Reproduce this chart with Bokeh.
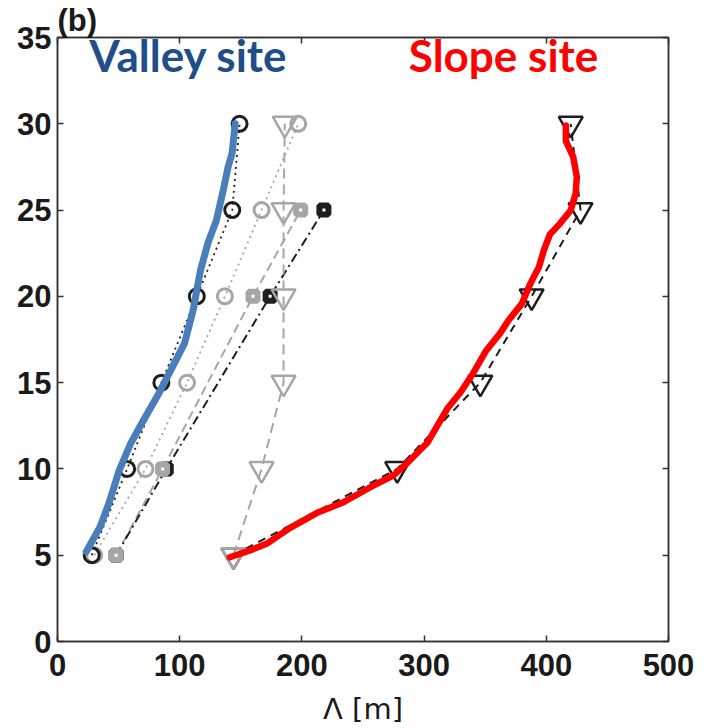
from bokeh.plotting import figure
from bokeh.models import Range1d, LinearAxis, FixedTicker, Label
from bokeh.embed import file_html
from bokeh.resources import INLINE

# ---------------- data ----------------
heights = [5, 10, 15, 20, 25, 30]
square_heights = [5, 10, 20, 25]

valley_black_circles = [28, 57, 85, 114, 143, 149]
valley_gray_circles = [30, 72, 106, 137, 167, 197]
valley_gray_squares = [48, 86, 160, 199]
valley_black_squares = [48, 89, 174, 218]
gray_triangles = [144, 167, 185, 185, 185, 186]
slope_black_triangles = [144, 278, 346, 388, 428, 420]

valley_line_h = [5.2, 6.64, 8.0, 9.0, 9.92, 11.49, 12.65, 14.39, 15.9, 17.29,
                 19.2, 21.5, 23.07, 24.4, 26.1, 27.5, 28.3, 30.0]
valley_line_m = [23.5, 34.8, 42, 46.5, 50.5, 60, 69, 83, 94, 104,
                 111, 117, 123, 130, 135.5, 139.6, 142.9, 145.4]

slope_line_h = [4.88, 5.29, 5.70, 6.57, 7.44, 8.07, 8.94, 9.63, 10.33, 11.55,
                13.5, 14.46, 15.53, 16.88, 17.84, 18.6, 19.58, 20.74, 21.7,
                22.67, 23.6, 24.2, 24.99, 25.96, 26.9, 28.08, 29.0, 29.9]
slope_line_m = [141, 158, 172, 190, 212, 234, 256, 275, 286, 303,
                319, 330, 340, 351, 362, 369, 380, 387, 394,
                398, 403, 411, 420, 424, 425, 422, 416, 416]

x_ticks = [0, 100, 200, 300, 400, 500]
y_ticks = [0, 5, 10, 15, 20, 25, 30, 35]

GRAY = "#A6A6A6"
BLACK = "#1E1E1E"

p = figure(width=706, height=728, output_backend="svg", toolbar_location=None,
           x_range=Range1d(0, 500), y_range=Range1d(0, 35),
           min_border_left=57, min_border_right=38,
           min_border_top=37, min_border_bottom=87)
p.grid.visible = False
p.outline_line_color = "#333333"
p.outline_line_width = 1.5
p.background_fill_color = "white"
p.border_fill_color = "white"

p.title.text = "(b)"
p.title.align = "left"
p.title.text_font = "Liberation Sans"
p.title.text_font_style = "bold"
p.title.text_font_size = "31px"
p.title.text_color = "#1A1A1A"
p.title.standoff = 0
p.title.offset = 0

def style_axis(ax):
    ax.major_tick_in = 6
    ax.major_tick_out = 0
    ax.minor_tick_line_color = None
    ax.axis_line_color = "#333333"
    ax.axis_line_width = 1.5
    ax.major_tick_line_color = "#333333"
    ax.major_tick_line_width = 1.5
    ax.major_label_text_font = "Liberation Sans"
    ax.major_label_text_font_style = "bold"
    ax.major_label_text_font_size = "31px"
    ax.major_label_text_color = "#1A1A1A"

xa = p.xaxis[0]
xa.ticker = FixedTicker(ticks=x_ticks)
style_axis(xa)
xa.major_label_standoff = 12
xa.axis_label = "Λ [m]"
xa.axis_label_text_font = "DejaVu Sans"
xa.axis_label_text_font_style = "normal"
xa.axis_label_text_font_size = "29px"
xa.axis_label_text_color = "#1A1A1A"
xa.axis_label_standoff = 13

ya = p.yaxis[0]
ya.ticker = FixedTicker(ticks=y_ticks)
style_axis(ya)
ya.major_label_standoff = 6

ra = LinearAxis(ticker=FixedTicker(ticks=y_ticks),
                major_label_overrides={t: "" for t in y_ticks})
style_axis(ra)
ra.major_label_text_font_size = "1px"
ra.major_label_standoff = 0
p.add_layout(ra, "right")

ta = LinearAxis(ticker=FixedTicker(ticks=x_ticks),
                major_label_overrides={t: "" for t in x_ticks})
style_axis(ta)
ta.major_label_text_font_size = "1px"
ta.major_label_standoff = 0
p.add_layout(ta, "above")

# ---- series lines ----
p.line(valley_black_circles, heights, line_color=BLACK, line_width=1.8, line_dash="2 4")
p.line(valley_gray_circles, heights, line_color=GRAY, line_width=1.8, line_dash="2 4")
p.line(valley_gray_squares, square_heights, line_color=GRAY, line_width=2, line_dash="9 5")
p.line(valley_black_squares, square_heights, line_color=BLACK, line_width=2, line_dash="9 4 2 4")
p.line(gray_triangles, heights, line_color=GRAY, line_width=2, line_dash="10 6")
p.line(slope_black_triangles, heights, line_color=BLACK, line_width=2, line_dash="8 6")

# ---- markers ----
p.scatter(valley_black_squares, square_heights, marker="square", size=9,
          line_color=BLACK, line_width=6, fill_color="white")
p.scatter(valley_gray_squares, square_heights, marker="square", size=9,
          line_color=GRAY, line_width=6, fill_color="white")
p.scatter(slope_black_triangles, heights, marker="inverted_triangle", size=24,
          line_color=BLACK, line_width=2.5, fill_color=None)
p.scatter(gray_triangles, heights, marker="inverted_triangle", size=24,
          line_color=GRAY, line_width=2.5, fill_color=None)
p.scatter(valley_gray_circles, heights, marker="circle", size=15,
          line_color=GRAY, line_width=3, fill_color=None)
p.scatter(valley_black_circles, heights, marker="circle", size=15,
          line_color=BLACK, line_width=3, fill_color=None)

# ---- thick measured profiles ----
p.line(valley_line_m, valley_line_h, line_color="#4A7EBB", line_width=7,
       line_join="round", line_cap="round")
p.line(slope_line_m, slope_line_h, line_color="#FF0000", line_width=6.5,
       line_join="round", line_cap="round")

# ---- site names ----
p.add_layout(Label(x=26.0, y=34.0, text="Valley site", text_font="Lato",
                   text_font_style="bold", text_font_size="44px",
                   text_color="#1F4E88", text_baseline="alphabetic"))
p.add_layout(Label(x=287.5, y=34.0, text="Slope site", text_font="Lato",
                   text_font_style="bold", text_font_size="44px",
                   text_color="#FF0000", text_baseline="alphabetic"))

open("out.html", "w").write(file_html(p, INLINE))
